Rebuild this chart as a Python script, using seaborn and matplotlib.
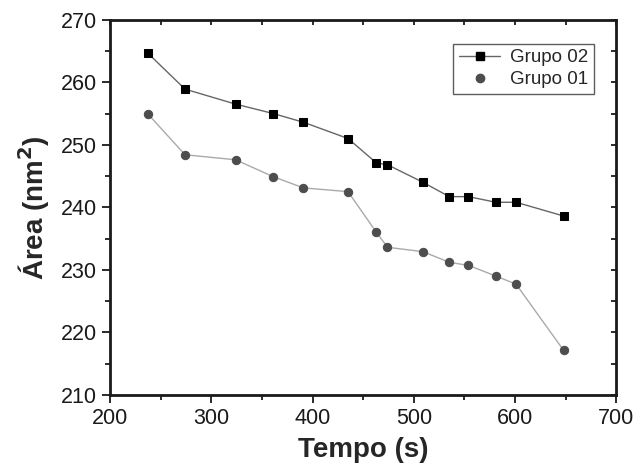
import numpy as np
import pandas as pd
import seaborn as sns
import matplotlib.pyplot as plt
from matplotlib.lines import Line2D
from matplotlib.ticker import MultipleLocator

# dados
tempo = [237, 274, 324, 361, 391, 435, 463, 474, 509, 535, 554, 581, 601, 648]
grupo02 = [264.7, 258.9, 256.5, 255.0, 253.6, 251.0, 247.1, 246.8, 244.0, 241.7, 241.7, 240.8, 240.8, 238.6]
grupo01 = [255.0, 248.4, 247.6, 244.9, 243.1, 242.5, 236.0, 233.6, 232.9, 231.2, 230.7, 229.0, 227.7, 217.1]

df02 = pd.DataFrame({'tempo': tempo, 'area': grupo02})
df01 = pd.DataFrame({'tempo': tempo, 'area': grupo01})

sns.set_style('white')
plt.rcParams['font.family'] = ['Liberation Sans', 'DejaVu Sans']

fig = plt.figure(figsize=(6.4, 4.7), dpi=100)
ax = fig.add_axes([0.172, 0.160, 0.791, 0.798])

sns.lineplot(data=df01, x='tempo', y='area', ax=ax, color='#aaaaaa', linewidth=1.0,
             marker='o', markersize=6, markerfacecolor='#4d4d4d', markeredgecolor='#4d4d4d')
sns.lineplot(data=df02, x='tempo', y='area', ax=ax, color='#666666', linewidth=1.0,
             marker='s', markersize=5.8, markerfacecolor='black', markeredgecolor='black')

ax.set_xlim(200, 700)
ax.set_ylim(210, 270)
ax.xaxis.set_major_locator(MultipleLocator(100))
ax.xaxis.set_minor_locator(MultipleLocator(50))
ax.yaxis.set_major_locator(MultipleLocator(10))
ax.yaxis.set_minor_locator(MultipleLocator(5))

for s in ax.spines.values():
    s.set_linewidth(2.0)
    s.set_color('#1a1a1a')

ax.tick_params(which='major', direction='out', length=6, width=1.3, labelsize=15.5,
               colors='#1a1a1a', bottom=True, left=True)
ax.tick_params(which='minor', direction='out', length=3.5, width=1.3,
               colors='#1a1a1a', bottom=True, left=True)

# ticks internos no topo e à direita
ax_top = ax.secondary_xaxis('top')
ax_top.xaxis.set_major_locator(MultipleLocator(50))
ax_top.tick_params(direction='in', length=3.5, width=1.3, labeltop=False, colors='#1a1a1a')
ax_top.spines['top'].set_visible(False)
ax_right = ax.secondary_yaxis('right')
ax_right.yaxis.set_major_locator(MultipleLocator(5))
ax_right.tick_params(direction='in', length=3.5, width=1.3, labelright=False, colors='#1a1a1a')
ax_right.spines['right'].set_visible(False)

ax.set_xlabel('Tempo (s)', fontsize=20, fontweight='bold', labelpad=6)
ax.set_ylabel('Área (nm$^\\mathbf{2}$)', fontsize=20, fontweight='bold', labelpad=6)

handles = [
    Line2D([], [], color='#666666', lw=1.0, marker='s', markersize=5.8,
           markerfacecolor='black', markeredgecolor='black'),
    Line2D([], [], lw=0, marker='o', markersize=6,
           markerfacecolor='#4d4d4d', markeredgecolor='#4d4d4d'),
]
leg = ax.legend(handles, ['Grupo 02', 'Grupo 01'], loc='upper right',
                bbox_to_anchor=(0.955, 0.936), borderaxespad=0, fontsize=13.5,
                frameon=True, fancybox=False, edgecolor='#333333', handlelength=2.2,
                borderpad=0.3, labelspacing=0.25, handletextpad=0.5)
leg.get_frame().set_linewidth(1.0)

plt.savefig('out.png', dpi=100)
